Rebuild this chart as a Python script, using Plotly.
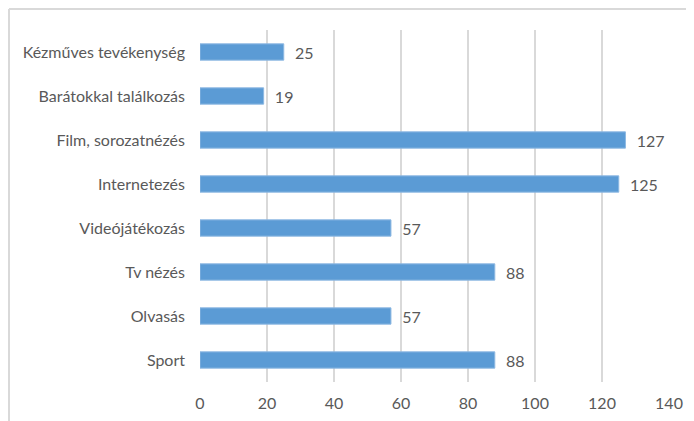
import plotly.graph_objects as go

categories = ["Sport", "Olvasás", "Tv nézés", "Videójátékozás", "Internetezés",
              "Film, sorozatnézés", "Barátokkal találkozás", "Kézműves tevékenység"]
values = [88, 57, 88, 57, 125, 127, 19, 25]
x_ticks = [0, 20, 40, 60, 80, 100, 120, 140]

W, H = 694, 421
# page body has an 8px offset; margins compensate for it
ml, mr, mt, mb = 192, 33, 22, 47
FONT = "Lato"
FS = 16

fig = go.Figure(go.Bar(
    y=categories, x=values, orientation="h",
    marker=dict(color="#5B9BD5", line=dict(color="#8DB8E2", width=1)),
    width=0.37,
    texttemplate="  %{x}", textposition="outside", constraintext="none",
    textfont=dict(color="#595959", size=FS, family=FONT),
    cliponaxis=False,
))

fig.update_layout(
    width=W, height=H,
    margin=dict(l=ml, r=mr, t=mt, b=mb, pad=0),
    paper_bgcolor="white", plot_bgcolor="white",
    showlegend=False,
    font=dict(family=FONT, color="#595959", size=FS),
    xaxis=dict(range=[0, 140], tickvals=x_ticks, showgrid=True, gridcolor="#D9D9D9",
               gridwidth=1.5, zeroline=False, showline=False, ticks="",
               ticklabelstandoff=10, automargin=False,
               tickfont=dict(size=FS, color="#595959", family=FONT), fixedrange=True),
    yaxis=dict(categoryorder="array", categoryarray=categories, showgrid=False,
               zeroline=False, showline=False, ticks="", ticklabelstandoff=14,
               automargin=False,
               tickfont=dict(size=FS, color="#595959", family=FONT), fixedrange=True),
)

pw = W - ml - mr
ph = H - mt - mb
x_left = (1 - ml) / pw
y_top = (H - 1 - mb) / ph
fig.add_shape(type="line", xref="paper", yref="paper", x0=x_left, x1=(W - ml) / pw,
              y0=y_top, y1=y_top, line=dict(color="#D9D9D9", width=2))
fig.add_shape(type="line", xref="paper", yref="paper", x0=x_left, x1=x_left,
              y0=-mb / ph, y1=y_top, line=dict(color="#D9D9D9", width=2))

fig.write_html("out.html")
